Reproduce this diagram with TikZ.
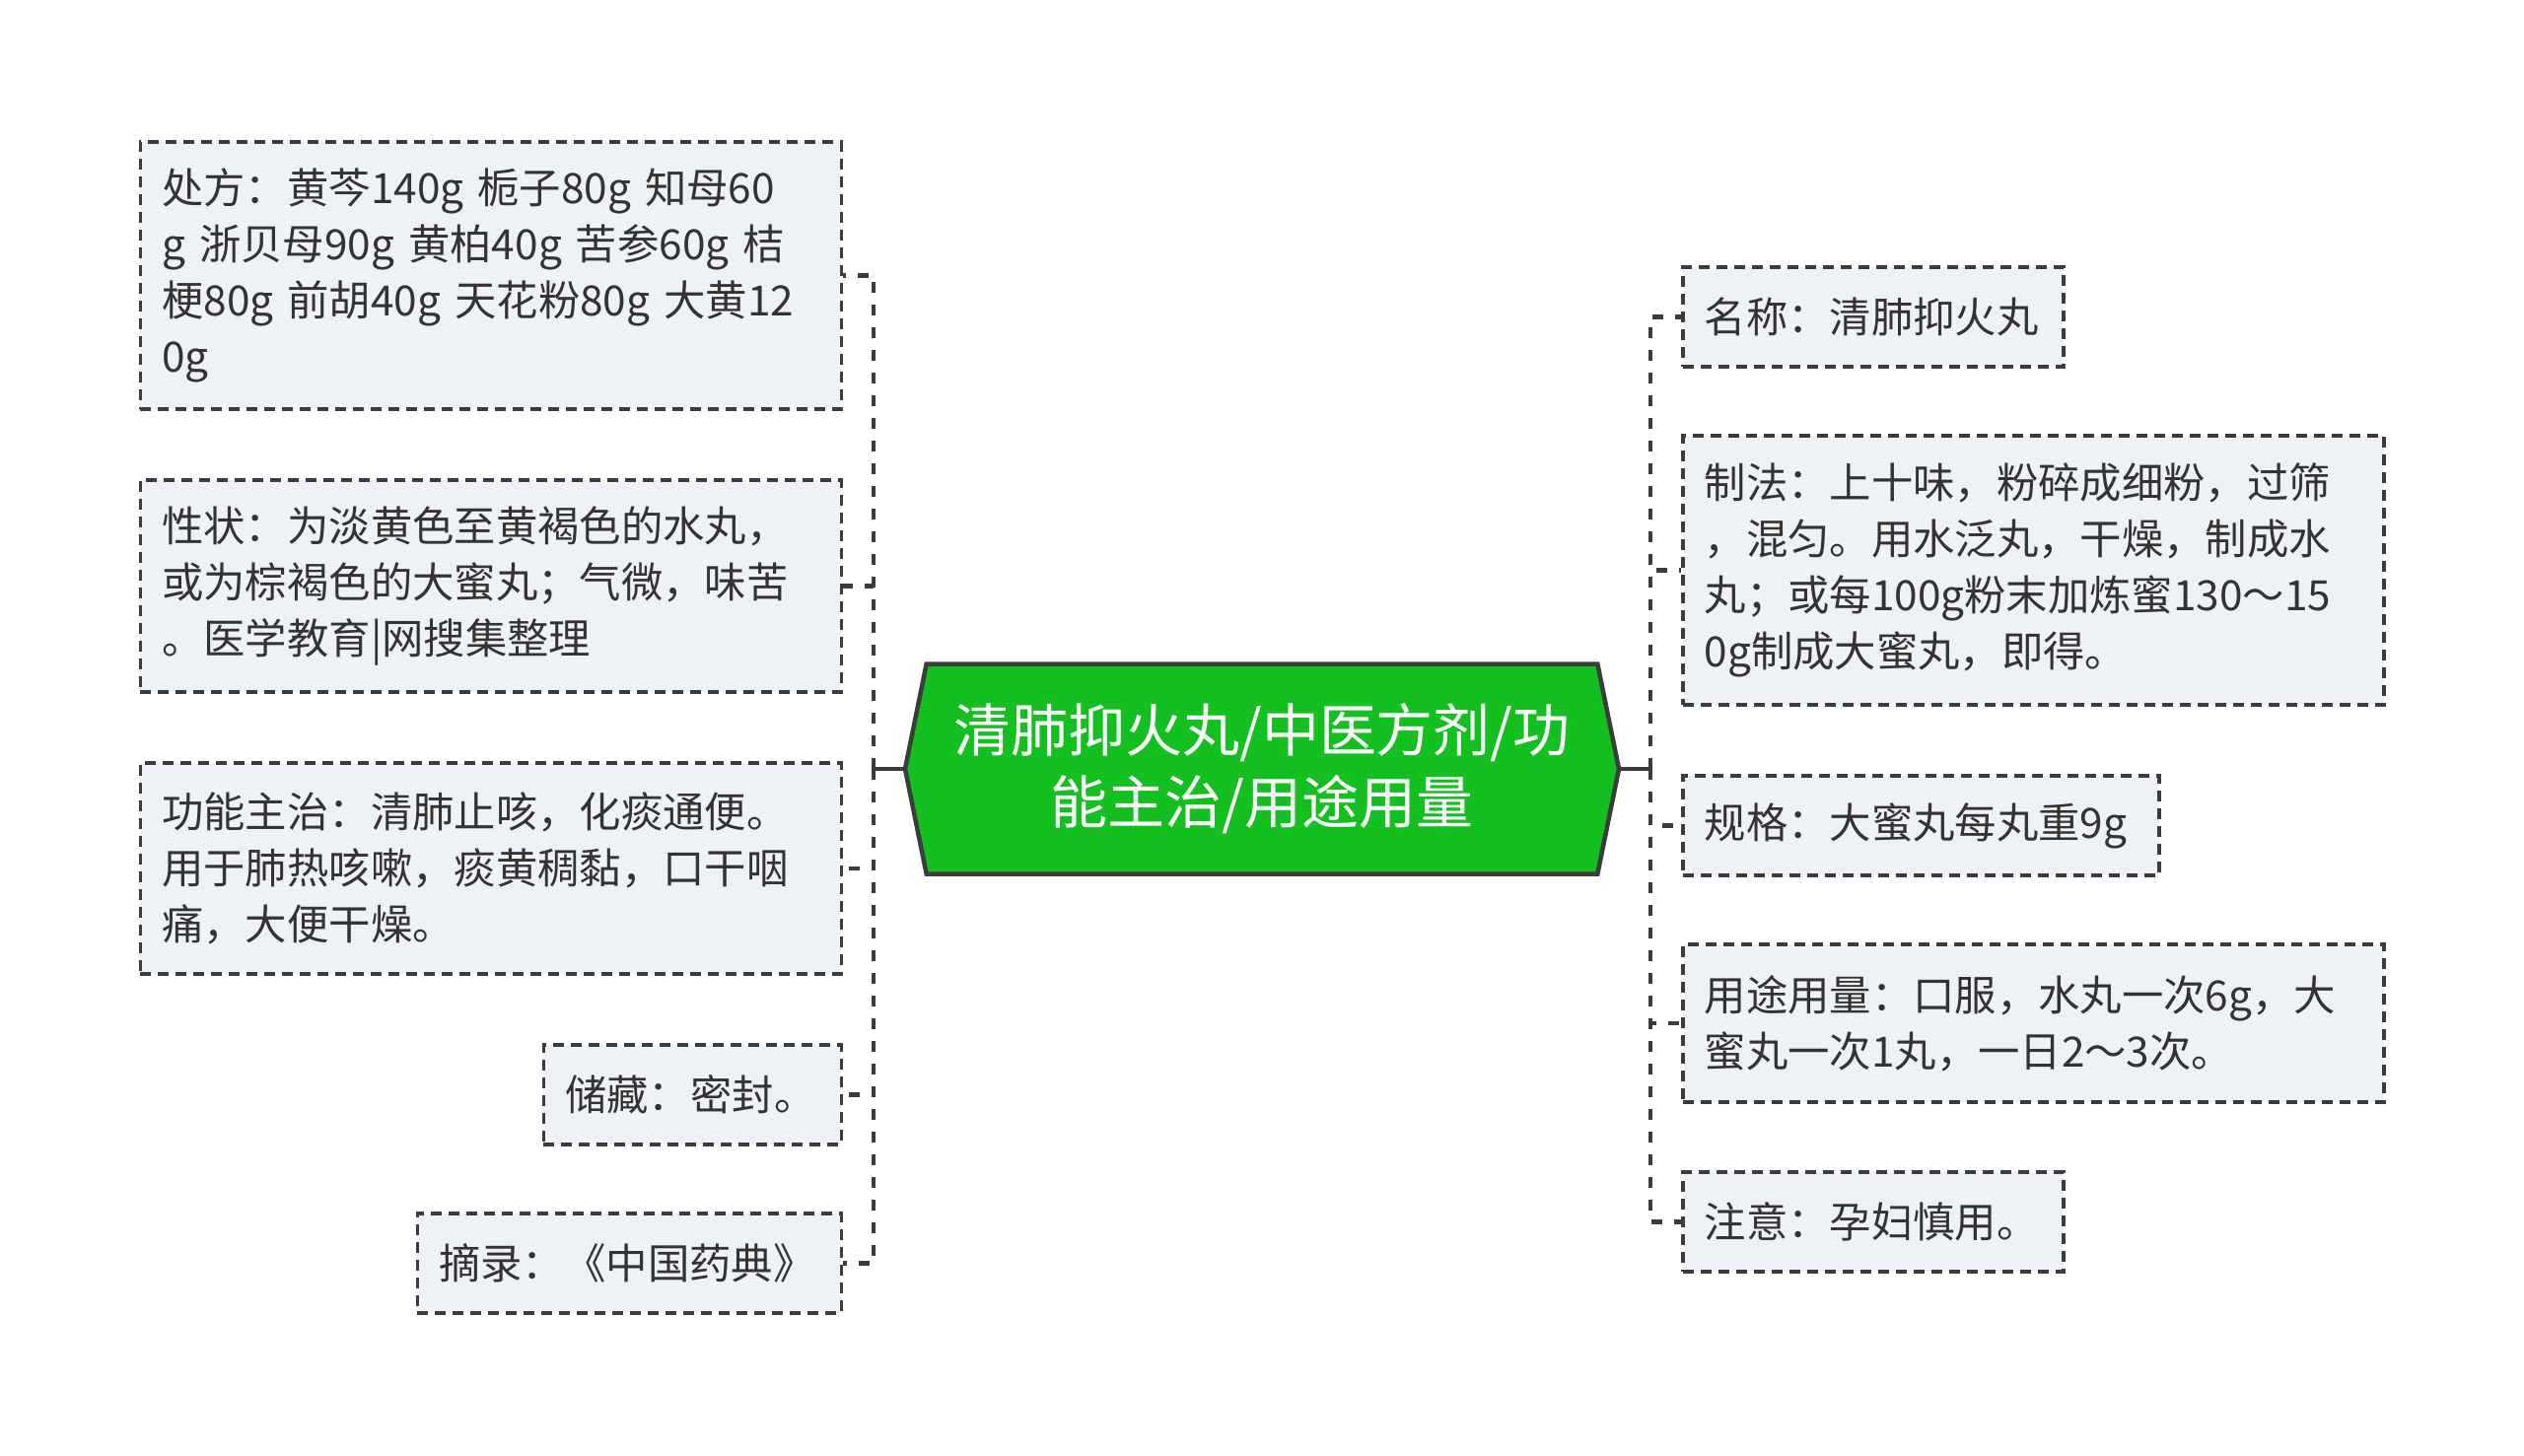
\documentclass[tikz,border=0pt]{standalone}
\usepackage{fontspec}
\usepackage{tikz}
\usetikzlibrary{shapes.symbols}
\newfontfamily\cjk{Noto Sans CJK SC}
\definecolor{linec}{HTML}{3C3C3C}
\definecolor{boxfill}{HTML}{EEF1F5}
\definecolor{hubfill}{HTML}{14C020}
\definecolor{textc}{HTML}{333333}

\begin{document}
\begin{tikzpicture}[
    leaf/.style={draw=linec, fill=boxfill, line width=0.07cm, dash pattern=on 0.22cm off 0.14cm, inner xsep=0.44cm, inner ysep=0cm, align=left, text=textc, font=\cjk\fontsize{24.1pt}{32.4pt}\selectfont},
    hub/.style={signal, signal to=west and east, signal pointer angle=157, draw=linec, fill=hubfill, line width=0.09cm, inner sep=0cm, text=white, align=center, minimum width=14.48cm, minimum height=4.26cm, font=\cjk\fontsize{33pt}{41.5pt}\selectfont},
    link/.style={draw=linec, line width=0.09cm, dash pattern=on 0.22cm off 0.24cm},
    stem/.style={draw=linec, line width=0.09cm}]
			\useasboundingbox (0,0) rectangle (51.2,-29.52);
			\node[hub] (hub) at (25.6,-15.6){清肺抑火丸/中医方剂/功\\能主治/用途用量};
			\node[leaf, anchor=east, text width=13.34cm, minimum height=5.42cm] (L1) at (17.1,-5.59){处方：黄芩140g 栀子80g 知母60\\g 浙贝母90g 黄柏40g 苦参60g 桔\\梗80g 前胡40g 天花粉80g 大黄12\\0g};
			\node[leaf, anchor=east, text width=13.34cm, minimum height=4.3cm] (L2) at (17.1,-11.89){性状：为淡黄色至黄褐色的水丸，\\或为棕褐色的大蜜丸；气微，味苦\\。医学教育|网搜集整理};
			\node[leaf, anchor=east, text width=13.34cm, minimum height=4.28cm] (L3) at (17.1,-17.62){功能主治：清肺止咳，化痰通便。\\用于肺热咳嗽，痰黄稠黏，口干咽\\痛，大便干燥。};
			\node[leaf, anchor=east, text width=5.16cm, minimum height=2.02cm] (L4) at (17.1,-22.21){储藏：密封。};
			\node[leaf, anchor=east, text width=7.72cm, minimum height=2.02cm] (L5) at (17.1,-25.63){摘录：《中国药典》};
			\node[leaf, anchor=west, text width=6.84cm, minimum height=2.02cm] (R1) at (34.1,-6.43){名称：清肺抑火丸};
			\node[leaf, anchor=west, text width=13.34cm, minimum height=5.46cm] (R2) at (34.1,-11.57){制法：上十味，粉碎成细粉，过筛\\，混匀。用水泛丸，干燥，制成水\\丸；或每100g粉末加炼蜜130～15\\0g制成大蜜丸，即得。};
			\node[leaf, anchor=west, text width=8.78cm, minimum height=2.02cm] (R3) at (34.1,-16.75){规格：大蜜丸每丸重9g};
			\node[leaf, anchor=west, text width=13.34cm, minimum height=3.2cm] (R4) at (34.1,-20.76){用途用量：口服，水丸一次6g，大\\蜜丸一次1丸，一日2～3次。};
			\node[leaf, anchor=west, text width=6.84cm, minimum height=2.02cm] (R5) at (34.1,-24.79){注意：孕妇慎用。};
			\coordinate (lj) at (17.72,-15.6);
			\coordinate (rj) at (33.48,-15.6);
			\draw[stem] (hub.west) -- (lj);
			\draw[stem] (hub.east) -- (rj);
			\foreach \n in {L1,L2,L3,L4,L5}
				\draw[link] (lj) |- (\n.east);
			\foreach \n in {R1,R2,R3,R4,R5}
				\draw[link] (rj) |- (\n.west);
		\end{tikzpicture}
\end{document}
